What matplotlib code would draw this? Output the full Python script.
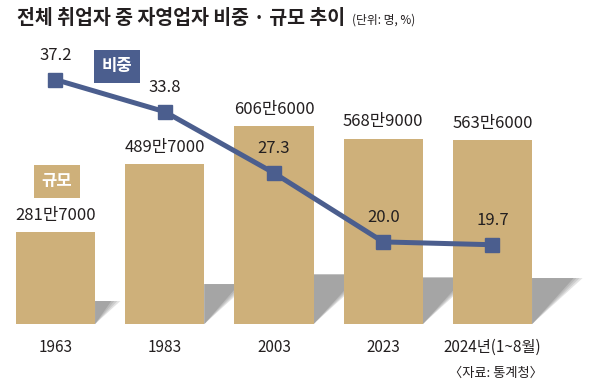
import matplotlib
matplotlib.use('Agg')
import matplotlib.pyplot as plt
from matplotlib.patches import Polygon
import numpy as np

plt.rcParams['font.family'] = ['Noto Sans CJK KR', 'DejaVu Sans']

# data
years = ['1963', '1983', '2003', '2023', '2024년(1~8월)']
workers = [281.7, 489.7, 606.6, 568.9, 563.6]          # 만 명
worker_labels = ['281만7000', '489만7000', '606만6000', '568만9000', '563만6000']
share = [37.2, 33.8, 27.3, 20.0, 19.7]                 # %

BAR_COLOR = '#ceb07a'
LINE_COLOR = '#4b5e8e'
SHADOW_COLOR = '#a5a5a5'
TEXT_COLOR = '#231f20'

fig = plt.figure(figsize=(6, 3.86), dpi=100)
ax = fig.add_axes([0, 62 / 386, 1, 284 / 386])
ax.set_xlim(-0.508, 4.984)
ax.set_ylim(0, 871)
for s in ax.spines.values():
    s.set_visible(False)
ax.set_yticks([])

x = np.arange(len(years))
width = 0.725
ax.bar(x, workers, width=width, color=BAR_COLOR, zorder=2)

# soft shadows behind bars: stacked translucent wedges, lighter at the diagonal
fig.canvas.draw()
px_per_x = ax.transData.transform((1, 0))[0] - ax.transData.transform((0, 0))[0]
px_per_y = ax.transData.transform((0, 1))[1] - ax.transData.transform((0, 0))[1]
for xi, v in zip(x, workers):
    h = 0.25 * v
    w = 1.1 * h * px_per_y / px_per_x
    right = xi + width / 2
    for d, a in [(0, 0.3), (3, 0.35), (6, 0.45), (9, 1.0)]:
        dx = d / px_per_x
        ax.add_patch(Polygon([(right, h), (right + w - dx, h), (right, 0)],
                             closed=True, color=SHADOW_COLOR, alpha=a, lw=0, zorder=1))

for xi, v, lab in zip(x, workers, worker_labels):
    ax.annotate(lab, (xi, v), xytext=(0, 12), textcoords='offset points',
                ha='center', va='center', fontsize=12, color=TEXT_COLOR)

ax.set_xticks(x)
ax.set_xticklabels(years, fontsize=11, color=TEXT_COLOR)
ax.tick_params(axis='x', length=0, pad=11)

# share line
ax2 = ax.twinx()
ax2.set_ylim(11.3, 41.4)
ax2.set_yticks([])
for s in ax2.spines.values():
    s.set_visible(False)
ax2.plot(x, share, color=LINE_COLOR, lw=3.6, marker='s', markersize=10,
         solid_capstyle='butt', zorder=3)
for xi, v in zip(x, share):
    ax2.annotate(f'{v:.1f}', (xi, v), xytext=(0, 17.5), textcoords='offset points',
                 ha='center', va='center', fontsize=12, color=TEXT_COLOR)

# legend boxes
fig.text(117 / 600, 1 - 66 / 386, '비중', ha='center', va='center', fontsize=12,
         fontweight='bold', color='white',
         bbox=dict(boxstyle='square,pad=0.45', fc=LINE_COLOR, ec='none'))
fig.text(57 / 600, 1 - 181 / 386, '규모', ha='center', va='center', fontsize=12,
         fontweight='bold', color='white',
         bbox=dict(boxstyle='square,pad=0.45', fc=BAR_COLOR, ec='none'))

# title and notes
fig.text(17 / 600, 1 - 19 / 386, '전체 취업자 중 자영업자 비중 · 규모 추이', ha='left',
         va='center', fontsize=14, fontweight='bold', color=TEXT_COLOR)
fig.text(352 / 600, 1 - 20 / 386, '(단위: 명, %)', ha='left', va='center',
         fontsize=8.5, color=TEXT_COLOR)
fig.text(496 / 600, 1 - 373 / 386, '〈자료: 통계청〉', ha='center', va='center',
         fontsize=9.5, color=TEXT_COLOR)

fig.savefig('out.png', dpi=100)
